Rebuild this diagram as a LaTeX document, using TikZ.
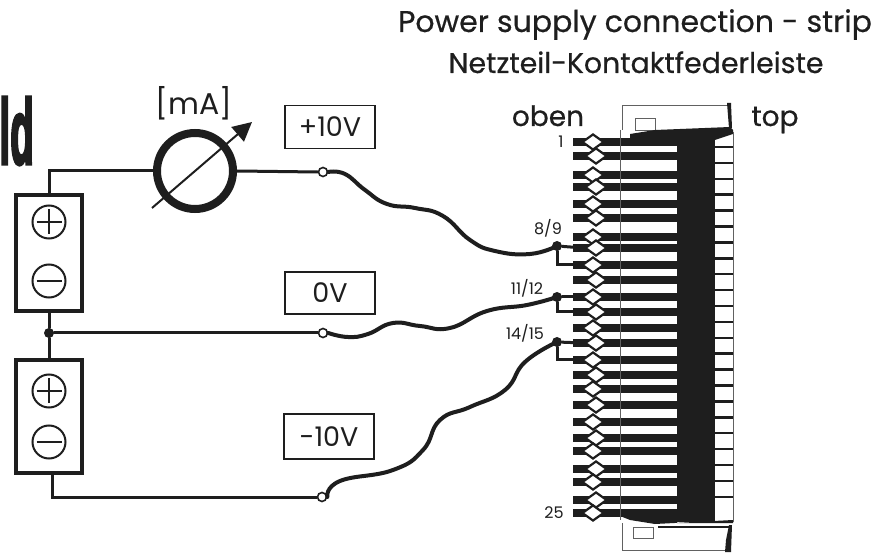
\documentclass[tikz,border=0pt]{standalone}
\usepackage{fontspec}
\usepackage{graphicx}
\setmainfont{Poppins}
\newfontfamily\titlefont[FakeBold=0.5]{Poppins}
\newfontfamily\heavyfont[FakeBold=4]{Liberation Sans Bold}
\usetikzlibrary{calc, arrows.meta, shapes.geometric}
\definecolor{ink}{HTML}{1E1E1E}
\tikzset{
    wire/.style={line width=3pt, draw=ink, line cap=round},
    cable/.style={line width=4pt, draw=ink, line cap=round},
    thinline/.style={line width=0.8pt, draw=ink!70},
    tag/.style={draw=ink, line width=1.5pt, inner sep=0pt, font=\fontsize{27}{27}\selectfont, text=ink},
    cell/.style={draw=ink, line width=3.5pt, fill=white, minimum width=66pt, inner sep=0pt},
    polarity/.style={circle, draw=ink, line width=2pt, minimum size=33pt, inner sep=0pt},
    pin/.style={diamond, draw=ink, fill=white, line width=2.2pt, minimum width=22pt, minimum height=16pt, inner sep=0pt},
    terminal/.style={circle, draw=ink, fill=white, line width=1.6pt, minimum size=9pt, inner sep=0pt},
    joint/.style={circle, fill=ink, minimum size=10pt, inner sep=0pt},
    small/.style={font=\fontsize{16}{16}\selectfont, text=ink, inner sep=0pt},
    big/.style={font=\titlefont\fontsize{28}{28}\selectfont, text=ink, inner sep=0pt, anchor=base},
}
\begin{document}
\begin{tikzpicture}[x=1pt, y=-1pt]
    \useasboundingbox (0,0) rectangle (876,553);
    \fill[white] (0,0) rectangle (876,553);
    \node[big, font=\titlefont\fontsize{30}{30}\selectfont] (titleen) at (635,32) {Power supply connection - strip};
    \node[big, font=\titlefont\fontsize{28.4}{28.4}\selectfont] (titlede) at (636,73) {Netzteil-Kontaktfederleiste};
    \node[inner sep=0pt, anchor=east, text=ink] (bild) at (34,131) {\scalebox{0.42}[1]{\heavyfont\fontsize{92}{92}\selectfont ld}};
    \node[big] (oben) at (548,126) {oben};
    \node[big] (top) at (775,126) {top};
    % strip
    \draw[thinline] (622,130) -- (622,105) -- (730,105);
    \draw[thinline] (635,130) rectangle (655,118);
    \fill[ink] (655,130) -- (730,127) -- (733,130) -- (733,134) -- (715,140) -- (630,140) -- (630,134) -- cycle;
    \fill[ink] (677,135) rectangle (715,522);
    \fill[ink] (620,516) -- (677,516) -- (677,523) -- (733,523) -- (733,520) -- (655,524) -- (630,520) -- cycle;
    \fill[ink] (727,103) -- (731,103) -- (732,128) -- (729,128) -- cycle;
    \draw[thinline] (622,523) -- (622,550) -- (728,550);
    \draw[thinline] (633,527) rectangle (653,538);
    \draw[line width=2pt, draw=ink] (658,527) -- (730,527);
    \fill[ink] (729,525) -- (732,525) -- (731,552) -- (725,552) -- (726,540) -- cycle;
    \foreach \y in {147,162.9,...,512}
        \draw[line width=2.5pt, draw=ink] (712,\y) -- (733,\y);
    \foreach \y [count=\n] in {142,156,175,187,204,218,237,248,265,280,297,312,328,343,360,375,389,405,422,438,451,469,482,500,513}{
        \draw[line width=8.5pt, draw=ink] (573,\y) -- (680,\y);
        \pgfmathsetmacro{\px}{isodd(\n) ? 593 : 596}
        \node[pin] (pin\n) at (\px,\y) {};
    }
    \draw[thinline] (620,130) -- (620,520);
    \draw[thinline] (733,132) -- (733,522);
    \node[small] (numa) at (561,142) {1};
    \node[small] (numb) at (548,228) {8/9};
    \node[small] (numc) at (527,288) {11/12};
    \node[small] (numd) at (525,333) {14/15};
    \node[small] (nume) at (554,513) {25};
    % supply
    \node[cell, minimum height=116pt] (cella) at (49,253) {};
    \node[cell, minimum height=113pt] (cellb) at (49,416.5) {};
    \node[polarity] (plusa) at (49,222) {};
    \node[polarity] (minusa) at (49,281) {};
    \node[polarity] (plusb) at (49,391) {};
    \node[polarity] (minusb) at (49,442) {};
    \foreach \s in {plusa,minusa,plusb,minusb}
        \draw[line width=2pt, draw=ink, shorten >=5pt, shorten <=5pt] (\s.west) -- (\s.east);
    \draw[line width=2pt, draw=ink, shorten >=5pt, shorten <=5pt] (plusa.north) -- (plusa.south);
    \draw[line width=2pt, draw=ink, shorten >=5pt, shorten <=5pt] (plusb.north) -- (plusb.south);
    \node[circle, draw=ink, line width=8pt, minimum size=76pt, inner sep=0pt] (meter) at (195,171) {};
    \node[font=\fontsize{30}{30}\selectfont, inner sep=0pt, text=ink] (unit) at (194,103) {[mA]};
    \coordinate (needlea) at (152,208);
    \coordinate (needleb) at (252,122);
    \draw[line width=2pt, draw=ink, -{Triangle[length=19pt,width=19pt]}] (needlea) -- (needleb);
    \node[tag, minimum width=90pt, minimum height=43pt] (tenp) at (330,127) {+10V};
    \node[tag, minimum width=90pt, minimum height=42pt] (zero) at (330,293) {0V};
    \node[tag, minimum width=90pt, minimum height=45pt] (tenm) at (329,436.5) {-10V};
    \node[terminal] (terma) at (323,172) {};
    \node[terminal] (termb) at (323,333) {};
    \node[terminal] (termc) at (322,497) {};
    \node[joint] (center) at (49,333) {};
    \node[joint] (jointa) at (557,246) {};
    \node[joint] (jointb) at (557,297) {};
    \node[joint] (jointc) at (557,342) {};
    \coordinate (corner) at (49,171);
    \coordinate (base) at (52,497);
    \draw[wire] (cella.north) -- (corner) -- (meter.west);
    \draw[wire] (meter.east) -- (terma.west);
    \draw[wire] (cella.south) -- (center) -- (cellb.north);
    \draw[wire] (center) -- (termb.west);
    \draw[wire] (base |- cellb.south) -- (base) -- (termc.west);
    \draw[cable] plot[smooth, tension=0.8] coordinates {(terma.east) (345,174) (365,190) (387,204) (415,208) (443,216) (470,240) (495,251) (530,254) (jointa)};
    \draw[cable] plot[smooth, tension=0.8] coordinates {(termb.east) (348,337) (368,334) (393,323) (420,326) (450,328) (487,311) (527,305) (jointb)};
    \draw[cable] plot[smooth, tension=0.8] coordinates {(termc.east) (340,481) (393,470) (423,450) (440,420) (470,407) (505,390) (525,362) (jointc)};
    \draw[wire] (jointa) -- (pin8.west);
    \draw[wire] (jointa) |- (pin9.west);
    \draw[wire] (jointb) -- (pin11.west);
    \draw[wire] (jointb) |- (pin12.west);
    \draw[wire] (jointc) -- (pin14.west);
    \draw[wire] (jointc) |- (pin15.west);
\end{tikzpicture}
\end{document}
